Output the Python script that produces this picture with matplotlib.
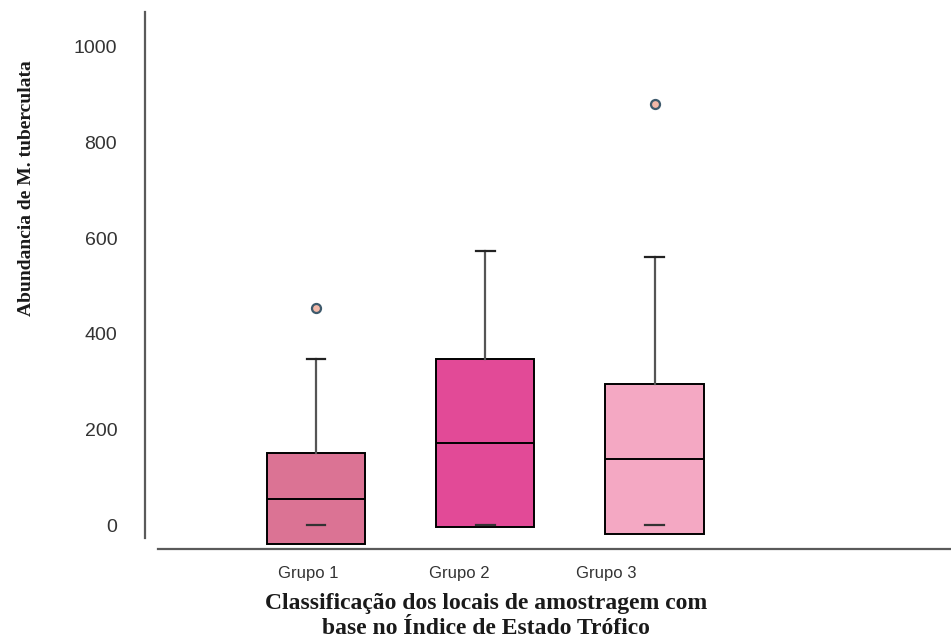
import matplotlib
matplotlib.use("Agg")
import matplotlib.pyplot as plt

# Box-plot summaries of M. tuberculata abundance per trophic-state group
groups = ["Grupo 1", "Grupo 2", "Grupo 3"]
q1 = [-40, -5, -19]
medians = [54, 171, 138]
q3 = [150, 347, 295]
whisker_low = [0, 0, 0]
whisker_high = [347, 573, 561]
outliers = [[453], [], [881]]
y_ticks = [0, 200, 400, 600, 800, 1000]

fill_colors = ["#DB7394", "#E24A97", "#F4A8C3"]

fig = plt.figure(figsize=(9.51, 6.44), dpi=100)
ax = fig.add_axes([145 / 951, 1 - 549 / 644, 1 - 145 / 951, (549 - 12) / 644])

stats = []
for i, g in enumerate(groups):
    stats.append(dict(label=g, q1=q1[i], med=medians[i], q3=q3[i],
                      whislo=whisker_low[i], whishi=whisker_high[i],
                      fliers=outliers[i]))

positions = [1, 2, 3]
bp = ax.bxp(stats, positions=positions, widths=0.58, capwidths=0.11,
            patch_artist=True, showfliers=True,
            boxprops=dict(edgecolor="black", linewidth=1.4),
            medianprops=dict(color="black", linewidth=1.4),
            whiskerprops=dict(color="#555555", linewidth=1.6),
            capprops=dict(color="#222222", linewidth=1.6),
            flierprops=dict(marker="o", markersize=6.5,
                            markerfacecolor="#F2B8A8",
                            markeredgecolor="#3E5A6C",
                            markeredgewidth=1.6))

for patch, c in zip(bp["boxes"], fill_colors):
    patch.set_facecolor(c)
    patch.set_zorder(2)
# the lower whisker stays hidden inside the box; only its cap is shown
for i in range(len(groups)):
    bp["whiskers"][2 * i].set_visible(False)
    bp["caps"][2 * i].set_zorder(3)
    bp["caps"][2 * i].set_color("#333333")

ax.set_xlim(-0.009, 4.75)
ax.set_ylim(-50, 1073)

for side in ("top", "right"):
    ax.spines[side].set_visible(False)
for side in ("left", "bottom"):
    ax.spines[side].set_color("#5A5A5A")
    ax.spines[side].set_linewidth(1.6)
ax.spines["left"].set_bounds(-27, 1073)
ax.spines["bottom"].set_bounds(0.068, 4.75)

ax.set_yticks(y_ticks)
ax.set_yticklabels([str(v) for v in y_ticks])
label_pos = [0.957, 1.848, 2.717]
ax.set_xticks(label_pos)
ax.set_xticklabels(groups)
ax.tick_params(axis="y", length=0, pad=20, labelsize=14, labelcolor="#333333")
ax.tick_params(axis="x", length=0, pad=12, labelsize=12, labelcolor="#333333")
for t in ax.get_xticklabels() + ax.get_yticklabels():
    t.set_fontfamily("Liberation Sans")

fig.text(486 / 951, 1 - 616 / 644,
         "Classificação dos locais de amostragem com\nbase no Índice de Estado Trófico",
         ha="center", va="center", fontsize=17, fontweight="bold",
         family="Liberation Serif", color="#1A1A1A", linespacing=1.25)
fig.text(27 / 951, 1 - 188 / 644, "Abundancia de M. tuberculata",
         rotation=90, ha="center", va="center", fontsize=14,
         fontweight="bold", family="Liberation Serif", color="#1A1A1A")

fig.savefig("out.png", dpi=100)
